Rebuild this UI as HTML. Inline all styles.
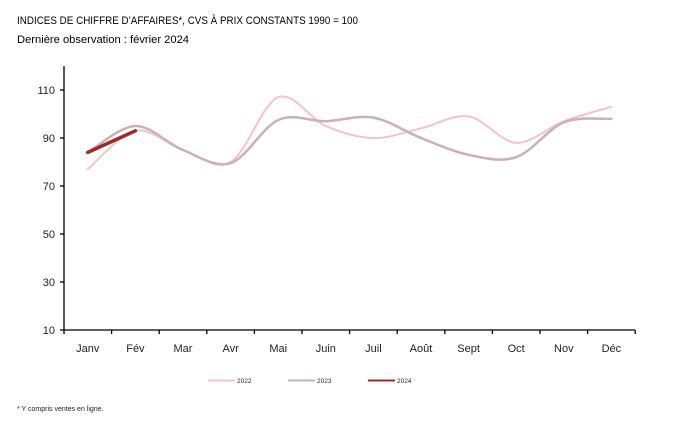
<!DOCTYPE html><html><head><meta charset="utf-8"><style>
body{margin:0;background:#fff;width:688px;height:419px;overflow:hidden;font-family:"Liberation Sans",sans-serif}
</style></head><body>
<svg id="s" width="688" height="419" xmlns="http://www.w3.org/2000/svg" font-family="Liberation Sans, sans-serif">
<text x="17" y="24" font-size="11" fill="#000" textLength="341" lengthAdjust="spacingAndGlyphs">INDICES DE CHIFFRE D’AFFAIRES*, CVS À PRIX CONSTANTS 1990 = 100</text>
<text x="17" y="43" font-size="11" fill="#000" textLength="172" lengthAdjust="spacingAndGlyphs">Dernière observation : février 2024</text>
<g id="ax" stroke="#000" stroke-width="1.3"></g>
<g id="lab" font-size="11" fill="#222"></g>
<g id="lines" fill="none" stroke-linecap="round"></g>
<g font-size="6.5" fill="#222">
<line x1="208" y1="380.5" x2="235" y2="380.5" stroke="#f2c4c4" stroke-width="2"/><text x="237" y="383">2022</text>
<line x1="288" y1="380.5" x2="315" y2="380.5" stroke="#c9b0ba" stroke-width="2"/><text x="317" y="383">2023</text>
<line x1="368" y1="380.5" x2="395" y2="380.5" stroke="#9e2b2b" stroke-width="2"/><text x="397" y="383">2024</text>
</g>
<text x="17" y="411" font-size="7" fill="#222">* Y compris ventes en ligne.</text>
</svg>
<script>
var NS="http://www.w3.org/2000/svg";
function el(p,t,a,tx){var e=document.createElementNS(NS,t);for(var k in a)e.setAttribute(k,a[k]);if(tx)e.textContent=tx;document.getElementById(p).appendChild(e);}
function Y(v){return 330-(v-10)*2.4;}
var x0=64,step=47.6;
el("ax","line",{x1:x0,y1:66,x2:x0,y2:330});
el("ax","line",{x1:x0,y1:330,x2:635,y2:330});
for(var v=10;v<=110;v+=20){el("ax","line",{x1:x0-4,y1:Y(v),x2:x0,y2:Y(v)});el("lab","text",{x:x0-9,y:Y(v)+4,"text-anchor":"end"},v);}
var m=["Janv","Fév","Mar","Avr","Mai","Juin","Juil","Août","Sept","Oct","Nov","Déc"];
for(var i=0;i<=12;i++){var x=x0+i*step;el("ax","line",{x1:x,y1:330,x2:x,y2:334});}
for(var i=0;i<12;i++)el("lab","text",{x:x0+(i+.5)*step,y:352,"text-anchor":"middle"},m[i]);
function path(d){var p=d.map(function(v,i){return[x0+(i+.5)*step,Y(v)]});var s="M"+p[0][0]+","+p[0][1];
for(var i=0;i<p.length-1;i++){var a=p[i-1]||p[i],b=p[i],c=p[i+1],e=p[i+2]||c;
s+=" C"+(b[0]+(c[0]-a[0])/6)+","+(b[1]+(c[1]-a[1])/6)+" "+(c[0]-(e[0]-b[0])/6)+","+(c[1]-(e[1]-b[1])/6)+" "+c[0]+","+c[1];}return s;}
el("lines","path",{d:path([77,93,85,80,107,95,90,94,99,88,97,103]),stroke:"#f2c4c4","stroke-width":2});
el("lines","path",{d:path([84,95,85,79.5,97.5,97,98.5,90,83,82,96.5,98]),stroke:"#c9b0ba","stroke-width":2.5});
el("lines","path",{d:"M"+(x0+.5*step)+","+Y(84)+" L"+(x0+1.5*step)+","+Y(93),stroke:"#9e2b2b","stroke-width":3.5});
</script>
</body></html>
